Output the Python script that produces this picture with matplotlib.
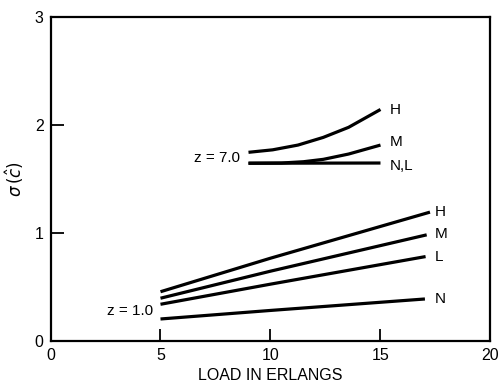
import matplotlib
matplotlib.use("Agg")
import matplotlib.pyplot as plt

plt.rcParams['font.family'] = ['Liberation Sans', 'DejaVu Sans']

# z = 1.0 group
z1_x_H = [5.0, 10.0, 17.25]
z1_H = [0.46, 0.77, 1.196]
z1_x_M = [5.0, 10.0, 17.1]
z1_M = [0.40, 0.65, 0.986]
z1_x_L = [5.0, 10.0, 17.05]
z1_L = [0.344, 0.53, 0.785]
z1_x_N = [5.0, 10.0, 17.02]
z1_N = [0.208, 0.287, 0.393]

# z = 7.0 group
z7_x_H = [9.0, 10.1, 11.25, 12.4, 13.55, 15.0]
z7_H = [1.749, 1.772, 1.816, 1.887, 1.98, 2.145]
z7_x_M = [9.0, 10.5, 11.5, 12.4, 13.55, 15.0]
z7_M = [1.648, 1.650, 1.662, 1.684, 1.733, 1.816]
z7_x_NL = [9.0, 15.0]
z7_NL = [1.648, 1.650]

xticks = [0, 5, 10, 15, 20]
yticks = [0, 1, 2, 3]

fig = plt.figure(figsize=(5.01, 3.83), dpi=100)
ax = fig.add_axes([0.1008, 0.1084, 0.8782, 0.8472])
lw = 2.3
for xs, ys in [(z1_x_H, z1_H), (z1_x_M, z1_M), (z1_x_L, z1_L), (z1_x_N, z1_N),
               (z7_x_H, z7_H), (z7_x_M, z7_M), (z7_x_NL, z7_NL)]:
    ax.plot(xs, ys, color='black', lw=lw, solid_capstyle='butt',
            solid_joinstyle='round')

fs = 11
for lab, y in [('H', 1.2), ('M', 0.99), ('L', 0.78), ('N', 0.39)]:
    ax.text(17.45, y, lab, fontsize=fs, ha='left', va='center')
for lab, y in [('H', 2.14), ('M', 1.84), ('N,L', 1.625)]:
    ax.text(15.4, y, lab, fontsize=fs, ha='left', va='center')
ax.text(8.61, 1.693, 'z = 7.0', fontsize=fs, ha='right', va='center')
ax.text(4.67, 0.282, 'z = 1.0', fontsize=fs, ha='right', va='center')

ax.set_xlim(0, 20)
ax.set_ylim(0, 3)
ax.set_xticks(xticks)
ax.set_yticks(yticks)
ax.tick_params(direction='in', length=9, width=1.3, labelsize=11.5, pad=5)
for s in ax.spines.values():
    s.set_linewidth(1.6)
ax.set_xlabel('LOAD IN ERLANGS', fontsize=11.5, labelpad=3)
ax.set_ylabel(r'$\sigma\,(\hat{c})$', fontsize=12, labelpad=6)

fig.savefig('out.png', dpi=100)
